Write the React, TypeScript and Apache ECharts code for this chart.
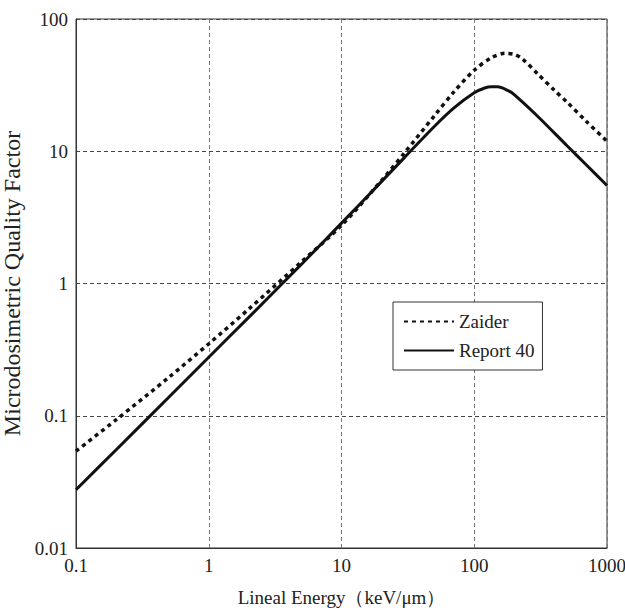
import React, { useEffect, useRef } from "react";
import * as echarts from "echarts";

const report40X = [0.1, 0.2, 0.5, 1, 2, 5, 10, 20, 30, 50, 70, 100, 120, 135, 150, 180, 200, 300, 500, 700, 1000];
const report40Y = [0.0276, 0.0551, 0.138, 0.277, 0.555, 1.40, 2.86, 5.89, 9.03, 15.4, 21.2, 27.7, 30.1, 30.7, 30.7, 28.7, 26.8, 18.4, 11.0, 7.87, 5.51];

const zaiderX = [0.1, 0.2, 0.5, 1, 2, 5, 10, 20, 30, 50, 70, 100, 135, 170, 200, 230, 300, 400, 500, 700, 1000];
const zaiderY = [0.054, 0.093, 0.195, 0.35, 0.64, 1.46, 2.75, 6.0, 9.8, 18.5, 28, 41, 51, 55, 54, 50, 38.5, 29, 23.5, 16.8, 11.9];

const xTicks = [0.1, 1, 10, 100, 1000];
const yTicks = [0.01, 0.1, 1, 10, 100];

const FONT = "Liberation Serif";

export default function App() {
  const ref = useRef<HTMLDivElement>(null);
  useEffect(() => {
    if (!ref.current) return;
    const chart = echarts.init(ref.current, null, { renderer: "svg" });
    const fmt = (v: number) => String(+Number(v).toPrecision(6));
    chart.setOption({
      animation: false,
      backgroundColor: "#ffffff",
      grid: {
        left: 76,
        right: 18,
        top: 19,
        bottom: 66,
        show: true,
        borderColor: "#333",
        borderWidth: 1,
        backgroundColor: "transparent",
        containLabel: false,
        outerBoundsMode: "none",
      },
      legend: {
        left: 393,
        top: 302,
        orient: "vertical",
        padding: [10, 8, 10, 10],
        itemGap: 10,
        itemWidth: 50,
        itemHeight: 14,
        borderColor: "#333",
        borderWidth: 1,
        backgroundColor: "#fff",
        itemStyle: { opacity: 0 },
        textStyle: { fontFamily: FONT, fontSize: 19, color: "#222" },
        data: ["Zaider", "Report 40"],
      },
      xAxis: {
        type: "log",
        logBase: 10,
        min: xTicks[0],
        max: xTicks[xTicks.length - 1],
        name: "Lineal Energy（keV/μm）",
        nameLocation: "middle",
        nameGap: 40,
        nameTextStyle: { fontFamily: FONT, fontSize: 19, color: "#222" },
        axisLine: { show: true, lineStyle: { color: "#333", width: 1 } },
        axisTick: { show: false },
        minorTick: { show: false },
        axisLabel: { fontFamily: FONT, fontSize: 19, color: "#222", margin: 8, formatter: fmt },
        splitLine: { show: true, lineStyle: { color: "#777", type: [4, 3], width: 1 } },
      },
      yAxis: {
        type: "log",
        logBase: 10,
        min: yTicks[0],
        max: yTicks[yTicks.length - 1],
        name: "Microdosimetric Quality Factor",
        nameLocation: "middle",
        nameGap: 48,
        nameTextStyle: { fontFamily: FONT, fontSize: 24, color: "#222" },
        axisLine: { show: true, lineStyle: { color: "#333", width: 1 } },
        axisTick: { show: false },
        minorTick: { show: false },
        axisLabel: { fontFamily: FONT, fontSize: 19, color: "#222", margin: 8, formatter: fmt },
        splitLine: { show: true, lineStyle: { color: "#444", type: [4, 3], width: 1 } },
      },
      series: [
        {
          name: "Zaider",
          type: "line",
          smooth: 0.3,
          showSymbol: false,
          symbol: "none",
          lineStyle: { color: "#111", width: 3.5, type: [4, 4] },
          itemStyle: { color: "#111" },
          data: zaiderX.map((x, i) => [x, zaiderY[i]]),
        },
        {
          name: "Report 40",
          type: "line",
          smooth: 0.3,
          showSymbol: false,
          symbol: "none",
          lineStyle: { color: "#111", width: 3, type: "solid" },
          itemStyle: { color: "#111" },
          data: report40X.map((x, i) => [x, report40Y[i]]),
        },
      ],
    });
    return () => chart.dispose();
  }, []);
  return (
    <div
      ref={ref}
      style={{ position: "fixed", left: 0, top: 0, width: 625, height: 614, background: "#fff" }}
    />
  );
}
